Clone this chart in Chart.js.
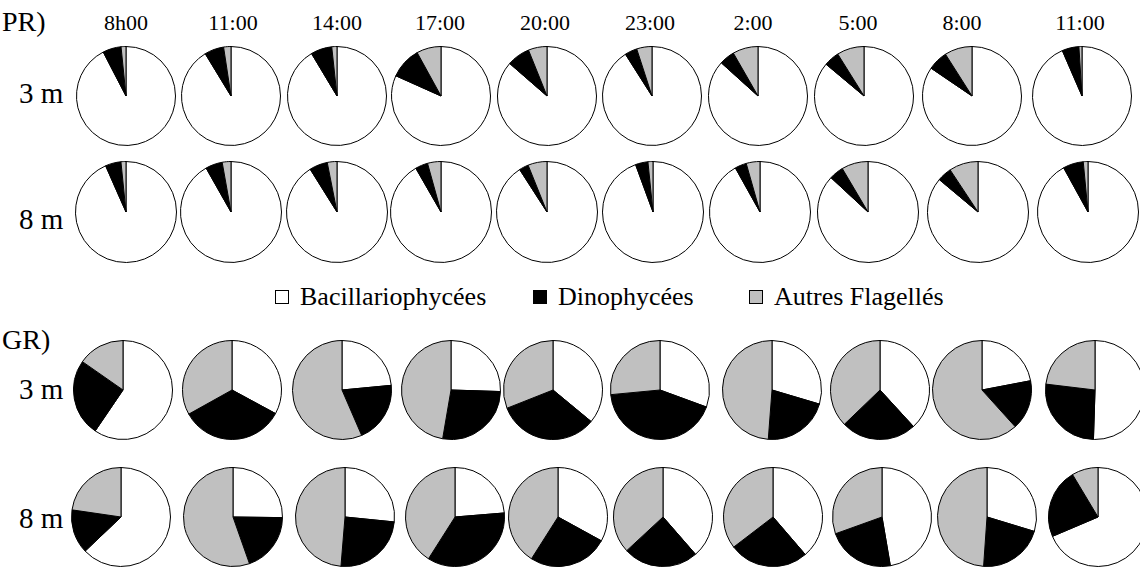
<!DOCTYPE html>
<html>
<head>
<meta charset="utf-8">
<script src="https://cdn.jsdelivr.net/npm/chart.js@4/dist/chart.umd.min.js"></script>
<style>
  body { margin: 0; background: #fff; }
  #wrap { position: relative; width: 1140px; height: 568px; overflow: hidden; font-family: "Liberation Serif", "Times New Roman", serif; color: #000; }
  .txt { position: absolute; white-space: nowrap; line-height: 1; }
  .pie { position: absolute; }
  .box { display: inline-block; box-sizing: border-box; width: 14px; height: 14px; border: 1px solid #000; margin-right: 11px; vertical-align: 1px; }
</style>
</head>
<body>
<div id="wrap"></div>
<script>
// categories (clockwise from 12 o'clock)
var categories = ['Bacillariophycées', 'Dinophycées', 'Autres Flagellés'];
var colors = ['#ffffff', '#000000', '#c0c0c0'];
var hours = ['8h00', '11:00', '14:00', '17:00', '20:00', '23:00', '2:00', '5:00', '8:00', '11:00'];

// percentages [Bacillariophycées, Dinophycées, Autres Flagellés]
var pr3m = [[92.4, 6.0, 1.6], [91.3, 6.3, 2.4], [91.4, 6.9, 1.7], [81.7, 10.3, 8.0], [86.4, 7.5, 6.1],
            [91.0, 4.0, 5.0], [86.7, 5.0, 8.3], [86.1, 5.0, 8.9], [84.5, 6.5, 9.0], [93.5, 5.5, 1.0]];
var pr8m = [[93.4, 5.0, 1.6], [91.8, 5.4, 2.8], [91.1, 5.8, 3.1], [91.7, 4.0, 4.3], [90.9, 3.0, 6.1],
            [94.4, 4.0, 1.6], [91.9, 3.7, 4.4], [86.9, 4.6, 8.5], [86.1, 4.6, 9.3], [92.0, 6.5, 1.5]];
var gr3m = [[59.5, 25.2, 15.3], [32.9, 34.0, 33.1], [23.5, 20.0, 56.5], [25.5, 27.2, 47.3], [36.0, 33.0, 31.0],
            [30.6, 42.9, 26.5], [29.6, 21.6, 48.8], [38.2, 24.6, 37.2], [22.0, 16.3, 61.7], [50.5, 26.4, 23.1]];
var gr8m = [[62.9, 14.4, 22.7], [25.2, 19.4, 55.4], [26.6, 24.7, 48.7], [23.7, 35.3, 41.0], [33.0, 26.0, 41.0],
            [38.6, 24.5, 36.9], [38.7, 25.9, 35.4], [47.3, 22.2, 30.5], [29.7, 21.4, 48.9], [68.6, 22.8, 8.6]];

// layout
var rows = [
  { data: pr3m, cy: 96,  r: 49, xs: [126, 231, 337, 441, 547, 652, 758, 864, 972, 1082] },
  { data: pr8m, cy: 212, r: 50, xs: [126, 231, 337, 441, 547, 653, 760, 868, 978, 1088] },
  { data: gr3m, cy: 390, r: 49, xs: [123, 232, 342, 451, 553, 660, 772, 880, 982, 1095] },
  { data: gr8m, cy: 517, r: 49, xs: [121, 233, 345, 455, 558, 663, 773, 882, 987, 1098] }
];
var hourX = [126, 233, 337, 440, 545, 650, 753, 858, 962, 1080];

var wrap = document.getElementById('wrap');

function addText(str, x, y, size, center) {
  var d = document.createElement('div');
  d.className = 'txt';
  d.textContent = str;
  d.style.fontSize = size + 'px';
  d.style.top = (y - size / 2) + 'px';
  d.style.left = x + 'px';
  if (center) d.style.transform = 'translateX(-50%)';
  wrap.appendChild(d);
  return d;
}

addText('PR)', 2, 22, 28);
addText('GR)', 2, 340, 28);
hours.forEach(function (h, i) { addText(h, hourX[i], 23, 22, true); });
addText('3 m', 19, 93, 29);
addText('8 m', 19, 219, 29);
addText('3 m', 19, 389, 29);
addText('8 m', 19, 518, 29);

// legend
var legX = [275, 533, 749];
categories.forEach(function (c, i) {
  var d = addText('', legX[i], 297, 26);
  var b = document.createElement('span');
  b.className = 'box';
  b.style.background = colors[i];
  d.appendChild(b);
  d.appendChild(document.createTextNode(c));
});

function makePie(vals, cx, cy, r) {
  var size = 2 * r + 2;
  var div = document.createElement('div');
  div.className = 'pie';
  div.style.left = (cx - size / 2) + 'px';
  div.style.top = (cy - size / 2) + 'px';
  div.style.width = size + 'px';
  div.style.height = size + 'px';
  var cv = document.createElement('canvas');
  cv.width = size;
  cv.height = size;
  div.appendChild(cv);
  wrap.appendChild(div);
  new Chart(cv.getContext('2d'), {
    type: 'pie',
    data: {
      labels: categories,
      datasets: [{
        data: vals,
        backgroundColor: colors,
        borderColor: '#000',
        borderWidth: 1
      }]
    },
    options: {
      responsive: false,
      animation: false,
      layout: { padding: 0 },
      plugins: { legend: { display: false }, tooltip: { enabled: false } }
    }
  });
}

rows.forEach(function (row) {
  row.data.forEach(function (vals, i) {
    makePie(vals, row.xs[i], row.cy, row.r);
  });
});
</script>
</body>
</html>
